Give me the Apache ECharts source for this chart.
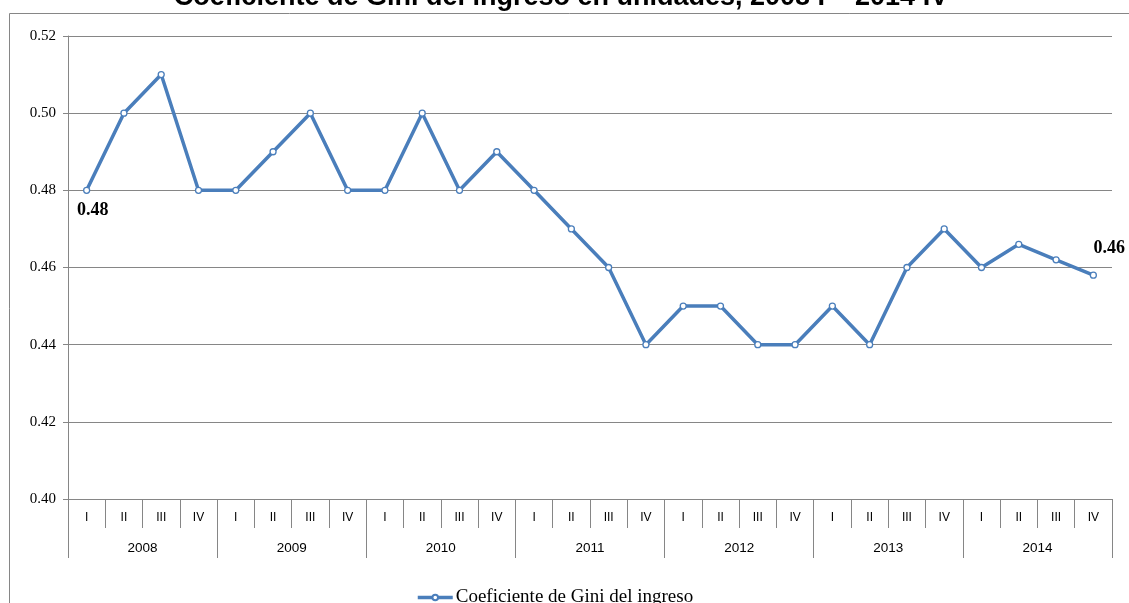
<!DOCTYPE html>
<html>
<head>
<meta charset="utf-8">
<script src="https://cdn.jsdelivr.net/npm/echarts@6/dist/echarts.min.js"></script>
<style>
  html, body { margin: 0; padding: 0; background: #fff; }
  #chart { width: 1129px; height: 603px; }
</style>
</head>
<body>
<div id="chart"></div>
<script>
// Quarters and years for the two-level category axis
const quarters = ["I", "II", "III", "IV"];
const years = ["2008", "2009", "2010", "2011", "2012", "2013", "2014"];
const quarterLabels = years.flatMap(() => quarters);

// Gini coefficient per quarter, 2008 I – 2014 IV
const gini = [
  0.48, 0.50, 0.51, 0.48,
  0.48, 0.49, 0.50, 0.48,
  0.48, 0.50, 0.48, 0.49,
  0.48, 0.47, 0.46, 0.44,
  0.45, 0.45, 0.44, 0.44,
  0.45, 0.44, 0.46, 0.47,
  0.46, 0.466, 0.462, 0.458
];

const yTicks = [0.40, 0.42, 0.44, 0.46, 0.48, 0.50, 0.52];

const gray = "#868686";
const blue = "#4a7ebb";
const serif = "'Liberation Serif', 'DejaVu Serif', serif";
const sans = "'Liberation Sans', Arial, sans-serif";

const chart = echarts.init(document.getElementById("chart"));

const seriesData = gini.map((v, i) => {
  const item = { value: v };
  if (i === 0) {
    item.label = { show: true, position: "bottom", offset: [6, 2], formatter: "0.48" };
  } else if (i === gini.length - 1) {
    item.label = { show: true, position: "top", offset: [16, -9], formatter: "0.46" };
  }
  return item;
});

chart.setOption({
  animation: false,
  graphic: [{
    type: "rect",
    shape: { x: 9.5, y: 13.5, width: 1200, height: 700 },
    style: { fill: "none", stroke: gray, lineWidth: 1 },
    silent: true
  }, {
    // title sits above the frame and is cut by the top edge
    type: "text",
    x: 561,
    y: -2,
    style: {
      text: "Coeficiente de Gini del ingreso en unidades, 2008 I – 2014 IV",
      align: "center",
      verticalAlign: "middle",
      font: "bold 27px 'Liberation Sans', Arial, sans-serif",
      fill: "#000"
    },
    silent: true
  }],
  grid: { left: 68, right: 17, top: 36, bottom: 104, containLabel: false },
  legend: {
    left: 411,
    top: 583,
    itemWidth: 35,
    itemHeight: 7,
    itemGap: 0,
    lineStyle: { width: 3.5 },
    textStyle: { fontFamily: serif, fontSize: 19, color: "#000", padding: [14, 0, 0, -2] },
    data: ["Coeficiente de Gini del ingreso"]
  },
  xAxis: [{
    type: "category",
    data: quarterLabels,
    boundaryGap: true,
    axisLine: { show: true, lineStyle: { color: gray, width: 1 } },
    axisTick: { show: true, interval: 0, length: 29, lineStyle: { color: gray } },
    axisLabel: { interval: 0, margin: 13, fontFamily: sans, fontSize: 12, color: "#000" },
    splitLine: { show: false }
  }, {
    type: "category",
    data: years,
    position: "bottom",
    boundaryGap: true,
    axisLine: { show: false },
    axisTick: { show: true, interval: 0, length: 59, lineStyle: { color: gray } },
    axisLabel: { interval: 0, margin: 42, fontFamily: sans, fontSize: 13.5, color: "#000" },
    splitLine: { show: false }
  }],
  yAxis: {
    type: "value",
    min: yTicks[0],
    max: yTicks[yTicks.length - 1],
    interval: 0.02,
    axisLine: { show: true, lineStyle: { color: gray } },
    axisTick: { show: true, length: 5, lineStyle: { color: gray } },
    axisLabel: {
      margin: 12,
      fontFamily: serif,
      fontSize: 15,
      color: "#000",
      formatter: (v) => v.toFixed(2)
    },
    splitLine: { show: true, lineStyle: { color: gray, width: 1 } }
  },
  series: [{
    name: "Coeficiente de Gini del ingreso",
    type: "line",
    xAxisIndex: 0,
    data: seriesData,
    symbol: "circle",
    symbolSize: 6,
    showAllSymbol: true,
    lineStyle: { color: blue, width: 3.5 },
    itemStyle: { color: "#fff", borderColor: blue, borderWidth: 1.3 },
    label: { show: false, fontFamily: serif, fontWeight: "bold", fontSize: 18, color: "#000" },
    emphasis: { disabled: true }
  }]
});
</script>
</body>
</html>
